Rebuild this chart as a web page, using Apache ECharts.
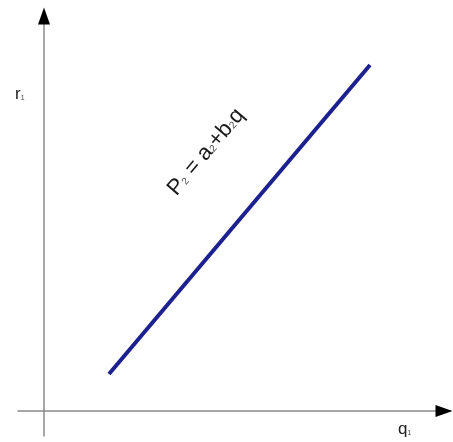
<!DOCTYPE html>
<html>
<head>
<meta charset="utf-8">
<script src="https://cdn.jsdelivr.net/npm/echarts@6/dist/echarts.min.js"></script>
<style>
  html, body { margin: 0; padding: 0; background: #fff; }
  #main { width: 453px; height: 442px; }
</style>
</head>
<body>
<div id="main"></div>
<script>
var chart = echarts.init(document.getElementById('main'));

// axis ranges (arbitrary units, origin where the axes cross)
var xRange = [-26, 406];
var yRange = [-25, 399];

// the supply line P2 = a2 + b2 q
var lineQ = [65, 326];
var lineP = [37, 346];

var lineData = lineQ.map(function (q, i) { return [q, lineP[i]]; });

var hidden = { show: false };

var option = {
    animation: false,
    grid: { left: 18, right: 3, top: 12, bottom: 6 },
    xAxis: {
        type: 'value', min: xRange[0], max: xRange[1],
        axisLine: { onZero: true, lineStyle: { color: '#8a8a8a', width: 1.5 } },
        axisTick: hidden, axisLabel: hidden, splitLine: hidden
    },
    yAxis: {
        type: 'value', min: yRange[0], max: yRange[1],
        axisLine: { onZero: true, lineStyle: { color: '#8a8a8a', width: 1.5 } },
        axisTick: hidden, axisLabel: hidden, splitLine: hidden
    },
    series: [
        {
            type: 'line',
            data: lineData,
            symbol: 'none',
            lineStyle: { color: '#1c218f', width: 4 }
        },
        {
            // arrow heads at the axis ends
            type: 'scatter',
            symbol: 'triangle',
            silent: true,
            itemStyle: { color: '#000', opacity: 1 },
            data: [
                { value: [0, yRange[1]], symbolSize: [12, 17], symbolOffset: [0, 4] },
                { value: [xRange[1], 0], symbolSize: [12, 17], symbolRotate: -90, symbolOffset: [-6, 0] }
            ]
        }
    ],
    graphic: [
        {
            type: 'text', left: 15, top: 86,
            style: {
                text: '{m|r}{s|1}',
                rich: {
                    m: { fontSize: 17, fontFamily: 'Liberation Sans', fill: '#222' },
                    s: { fontSize: 7, fontFamily: 'Liberation Sans', fill: '#444', padding: [8, 0, 0, 0] }
                }
            }
        },
        {
            type: 'text', left: 398, top: 421,
            style: {
                text: '{m|q}{s|1}',
                rich: {
                    m: { fontSize: 17, fontFamily: 'Liberation Sans', fill: '#222' },
                    s: { fontSize: 7, fontFamily: 'Liberation Sans', fill: '#444', padding: [8, 0, 0, 0] }
                }
            }
        },
        {
            type: 'text', x: 206, y: 152,
            rotation: 49.8 * Math.PI / 180,
            style: {
                text: '{m|P}{s|2}{m| = a}{s|2}{m|+b}{s|2}{m|q}',
                align: 'center', verticalAlign: 'middle',
                rich: {
                    m: { fontSize: 22, fontFamily: 'Liberation Sans', fill: '#1a1a1a' },
                    s: { fontSize: 10, fontFamily: 'Liberation Sans', fill: '#444', padding: [7, 0, 0, 0] }
                }
            }
        }
    ]
};

chart.setOption(option);
window.onresize = chart.resize;
</script>
</body>
</html>
